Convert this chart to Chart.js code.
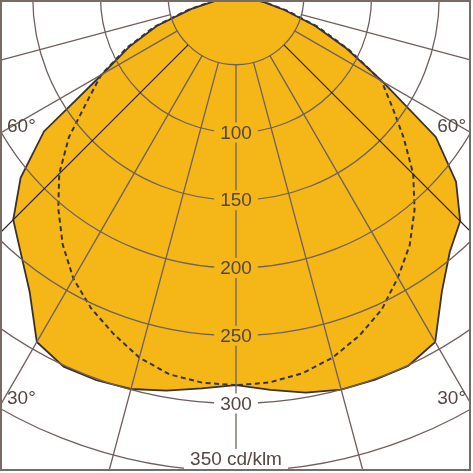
<!DOCTYPE html>
<html>
<head>
<meta charset="utf-8">
<script src="https://cdn.jsdelivr.net/npm/chart.js@4.4.1/dist/chart.umd.min.js"></script>
<style>
html,body{margin:0;padding:0;background:#fff;width:473px;height:473px;overflow:hidden;}
#clip{position:absolute;left:0;top:0;width:471px;height:471px;overflow:hidden;}
#c{position:absolute;left:-306px;top:-545px;width:1084px;height:1084px;}
#frame{position:absolute;left:0;top:0;width:471px;height:471px;box-sizing:border-box;border:2px solid #7a6a66;pointer-events:none;}
</style>
</head>
<body>
<div id="clip"><canvas id="c" width="1084" height="1084"></canvas></div>
<div id="frame"></div>
<script>
// Polar angles (degrees from nadir, clockwise on screen: left half first)
const ANGLES = [0,5,10,15,20,25,30,35,40,45,50,55,60,65,70,75,80,85,90,
  95,100,105,110,115,120,125,130,135,140,145,150,155,160,165,170,175,180,
  185,190,195,200,205,210,215,220,225,230,235,240,245,250,255,260,265,
  270,275,280,285,290,295,300,305,310,315,320,325,330,335,340,345,350,355];

// C0-C180 plane (solid, filled) in cd/klm
const C0_C180 = [286.5,290,295,299.5,301,301,294,265.5,247,232.5,207.5,173,114,87,62,34,15,6,2,
  0,0,0,0,0,0,0,0,0,0,0,0,0,0,0,0,0,0,0,0,0,0,0,0,0,0,0,0,0,0,0,0,0,0,0,
  2,8,20,37,62,90,125,180,212,234,245.5,265,294,300.5,300.5,300,296.5,291];

// C90-C270 plane (dashed) in cd/klm
const C90_C270 = [286.5,285.7,282.8,275.5,264.5,253.3,240,223,204,184.5,161,134,115,89,64,36,17,7,2,
  0,0,0,0,0,0,0,0,0,0,0,0,0,0,0,0,0,0,0,0,0,0,0,0,0,0,0,0,0,0,0,0,0,0,0,
  3,9,21,39,64,92,124,140.5,161.5,185,205,223.5,239,254.5,266,275.5,282,285.5];

const RADIAL_TICKS = [100,150,200,250,300,350];
const RADIAL_TICK_LABELS = ['100','150','200','250','300','350 cd/klm'];
const ANGLE_LINES = [0,15,30,45,60,75,90,105,120,135,150,165,180,195,210,225,240,255,270,285,300,315,330,345];
const ANGLE_LABELS = [60,30];

const FILL = '#F5B717';
const GRID = '#6f605c';
const TEXT = '#544642';
const FONT = '19px "Liberation Sans", Arial, sans-serif';

const overlay = {
  id: 'overlay',
  afterDraw(chart) {
    const s = chart.scales.r;
    const ctx = chart.ctx;
    const offX = chart.canvas.offsetLeft, offY = chart.canvas.offsetTop;
    ctx.save();
    // radial angle lines from the 50 circle outward
    ANGLE_LINES.forEach(a => {
      const idx = ANGLES.indexOf(a);
      const p0 = s.getPointPosition(idx, s.getDistanceFromCenterForValue(50));
      const p1 = s.getPointPosition(idx, s.getDistanceFromCenterForValue(s.max));
      const dark = a % 45 === 0 && a % 90 !== 0;
      ctx.strokeStyle = dark ? '#231d1c' : GRID;
      ctx.lineWidth = dark ? 1.1 : 1.3;
      ctx.beginPath();
      ctx.moveTo(p0.x, p0.y);
      ctx.lineTo(p1.x, p1.y);
      ctx.stroke();
    });
    // radial tick labels along nadir
    ctx.font = FONT;
    ctx.textAlign = 'center';
    ctx.textBaseline = 'middle';
    const bottomLimit = 459 - offY;
    RADIAL_TICKS.forEach((v, i) => {
      const p = s.getPointPosition(0, s.getDistanceFromCenterForValue(v));
      const y = Math.min(p.y, bottomLimit);
      const txt = RADIAL_TICK_LABELS[i];
      const w = ctx.measureText(txt).width;
      ctx.fillStyle = v < C0_C180[0] ? FILL : '#ffffff';
      ctx.fillRect(p.x - w / 2 - 6, y - 10, w + 12, 20);
      ctx.fillStyle = TEXT;
      ctx.fillText(txt, p.x, y + 1);
    });
    // angle labels at the frame
    const halfW = s.xCenter + offX; // distance from centre to left frame
    ANGLE_LABELS.forEach(a => {
      [ANGLES.indexOf(a), ANGLES.indexOf(360 - a)].forEach((idx, side) => {
        const q = s.getPointPosition(idx, 100);
        const dx = q.x - s.xCenter, dy = q.y - s.yCenter;
        const t = halfW / Math.abs(dx);
        const y = s.yCenter + dy * t - 7.5;
        ctx.fillStyle = TEXT;
        if (side === 0) {
          ctx.textAlign = 'left';
          ctx.fillText(a + '°', 7 - offX, y + 1);
        } else {
          ctx.textAlign = 'right';
          ctx.fillText(a + '°', 466 - offX, y + 1);
        }
      });
    });
    ctx.restore();
  }
};

new Chart(document.getElementById('c'), {
  type: 'radar',
  data: {
    labels: ANGLES,
    datasets: [
      {
        label: 'C0-C180',
        data: C0_C180,
        fill: true,
        backgroundColor: FILL,
        borderColor: '#3a302d',
        borderWidth: 1.8,
        pointRadius: 0,
        order: 2
      },
      {
        label: 'C90-C270',
        data: C90_C270,
        fill: false,
        borderColor: '#38333c',
        borderWidth: 2,
        borderDash: [5, 3.5],
        pointRadius: 0,
        order: 1
      }
    ]
  },
  options: {
    responsive: false,
    animation: false,
    layout: { padding: 0 },
    elements: { line: { tension: 0 } },
    plugins: { legend: { display: false }, tooltip: { enabled: false } },
    scales: {
      r: {
        min: 0,
        max: 400,
        startAngle: 180,
        ticks: { display: false, stepSize: 50 },
        grid: { circular: true, color: GRID, lineWidth: 1.3, z: 1 },
        angleLines: { display: false },
        pointLabels: { display: false }
      }
    }
  },
  plugins: [overlay]
});
</script>
</body>
</html>
